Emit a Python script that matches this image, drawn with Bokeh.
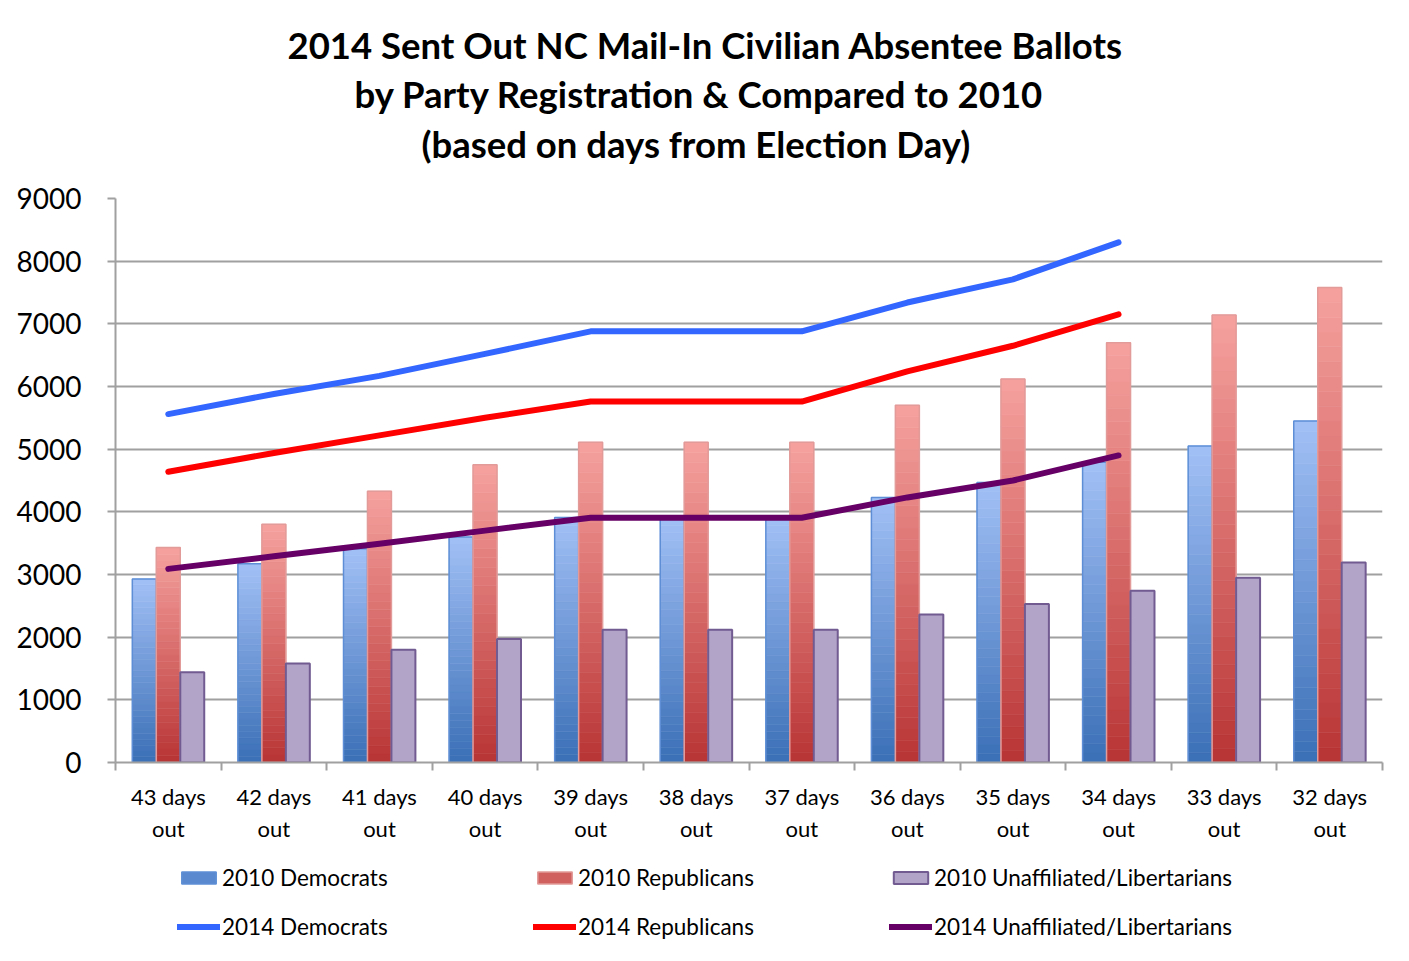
from bokeh.plotting import figure
from bokeh.layouts import column
from bokeh.models import FixedTicker, Title, Legend, LegendItem, ColumnDataSource, Range1d
from bokeh.embed import file_html
from bokeh.resources import INLINE

# ---------------- data ----------------
categories = ["43 days\nout", "42 days\nout", "41 days\nout", "40 days\nout", "39 days\nout",
              "38 days\nout", "37 days\nout", "36 days\nout", "35 days\nout", "34 days\nout",
              "33 days\nout", "32 days\nout"]
dem_2010 = [2930, 3170, 3410, 3600, 3910, 3910, 3910, 4230, 4470, 4790, 5050, 5450]
rep_2010 = [3430, 3800, 4330, 4750, 5110, 5110, 5110, 5700, 6120, 6700, 7140, 7580]
una_2010 = [1440, 1580, 1800, 1970, 2120, 2120, 2120, 2360, 2530, 2740, 2950, 3190]
dem_2014 = [5560, 5880, 6170, 6520, 6880, 6880, 6880, 7340, 7710, 8300]
rep_2014 = [4640, 4940, 5220, 5500, 5760, 5760, 5760, 6240, 6650, 7150]
una_2014 = [3090, 3290, 3490, 3700, 3905, 3905, 3905, 4230, 4500, 4900]
y_ticks = [0, 1000, 2000, 3000, 4000, 5000, 6000, 7000, 8000, 9000]
title_lines = ["2014 Sent Out NC Mail-In Civilian Absentee Ballots",
               "by Party Registration & Compared to 2010",
               "(based on days from Election Day)"]
series_labels = ["2010 Democrats", "2010 Republicans", "2010 Unaffiliated/Libertarians",
                 "2014 Democrats", "2014 Republicans", "2014 Unaffiliated/Libertarians"]

FONT = "Lato"
N_SEG = 32
BAR_W = 0.227
W = 1393
NAN = float("nan")

# colours
DEM_BOT, DEM_TOP, DEM_LINE, DEM_LEG = "#3a6fb6", "#a2c0f6", "#5e8fd6", "#5b89cf"
REP_BOT, REP_TOP, REP_LINE, REP_LEG = "#b83434", "#f6a29f", "#e29b99", "#d0605e"
UNA_FILL, UNA_LINE = "#b2a3c8", "#715b91"
C14 = ["#3366ff", "#ff0000", "#660066"]


def hex2rgb(h):
    h = h.lstrip("#")
    return tuple(int(h[i:i + 2], 16) for i in (0, 2, 4))


def lerp(c1, c2, t):
    a, b = hex2rgb(c1), hex2rgb(c2)
    return "#%02x%02x%02x" % tuple(round(a[j] + (b[j] - a[j]) * t) for j in range(3))


def gradient_source(values, offset, bottom_col, top_col):
    xs, bots, tops, cols = [], [], [], []
    for i, v in enumerate(values):
        for k in range(N_SEG):
            t = (k + 0.5) / N_SEG
            xs.append(i + offset)
            bots.append(v * k / N_SEG)
            tops.append(v * (k + 1) / N_SEG)
            cols.append(lerp(bottom_col, top_col, t))
    return ColumnDataSource(dict(x=xs, bottom=bots, top=tops, color=cols))


n = len(categories)
p = figure(width=W, height=850, output_backend="svg", toolbar_location=None,
           x_range=Range1d(-0.5, n - 0.5), y_range=Range1d(0, 9000),
           min_border_left=115, min_border_right=11, min_border_top=198, min_border_bottom=88)
p.title = None
p.outline_line_color = None
p.background_fill_color = "white"
p.border_fill_color = "white"

# titles: spacer nearest the frame, then lines 3, 2, 1 (stacked outward)
p.add_layout(Title(text=" ", text_font_size="1px", standoff=28), "above")
title_offsets = [172, 239, 306]
title_standoffs = [2, 4, 4]
for i in (2, 1, 0):
    p.add_layout(Title(text=title_lines[i], align="left", text_font=FONT, text_font_style="bold",
                       text_font_size="36.5px", text_color="black",
                       standoff=title_standoffs[i], offset=title_offsets[i]), "above")

# 2010 bars (vertical gradient made of stacked slices)
for vals, off, bcol, tcol, lcol in [(dem_2010, -BAR_W, DEM_BOT, DEM_TOP, DEM_LINE),
                                    (rep_2010, 0.0, REP_BOT, REP_TOP, REP_LINE)]:
    src = gradient_source(vals, off, bcol, tcol)
    p.vbar(x="x", bottom="bottom", top="top", width=BAR_W, source=src,
           fill_color="color", line_color="color", line_width=0.6)
    p.vbar(x=[i + off for i in range(len(vals))], top=vals, width=BAR_W,
           fill_color=None, line_color=lcol, line_width=1.5)

p.vbar(x=[i + BAR_W for i in range(n)], top=una_2010, width=BAR_W,
       fill_color=UNA_FILL, line_color=UNA_LINE, line_width=2)

# 2014 lines
for vals, col in zip([dem_2014, rep_2014, una_2014], C14):
    p.line(list(range(len(vals))), vals, line_color=col, line_width=6,
           line_cap="round", line_join="round")

# axes
p.yaxis.ticker = FixedTicker(ticks=y_ticks)
p.yaxis.axis_line_color = "#a0a0a0"
p.yaxis.axis_line_width = 2
p.yaxis.major_tick_line_color = "#a0a0a0"
p.yaxis.major_tick_line_width = 2
p.yaxis.major_tick_out = 8
p.yaxis.major_tick_in = 0
p.yaxis.minor_tick_line_color = None
p.yaxis.major_label_text_font = FONT
p.yaxis.major_label_text_font_size = "28px"
p.yaxis.major_label_text_color = "black"
p.yaxis.major_label_standoff = 26

p.xaxis.ticker = FixedTicker(ticks=list(range(n)), minor_ticks=[i - 0.5 for i in range(n + 1)])
p.xaxis.major_label_overrides = {i: c for i, c in enumerate(categories)}
p.xaxis.axis_line_color = "#a0a0a0"
p.xaxis.axis_line_width = 2
p.xaxis.major_tick_line_color = None
p.xaxis.minor_tick_line_color = "#a0a0a0"
p.xaxis.minor_tick_line_width = 2
p.xaxis.minor_tick_out = 8
p.xaxis.minor_tick_in = 0
p.xaxis.major_label_text_font = FONT
p.xaxis.major_label_text_font_size = "22px"
p.xaxis.major_label_text_color = "black"
p.xaxis.major_label_standoff = 12

p.xgrid.grid_line_color = None
p.ygrid.grid_line_color = "#a0a0a0"
p.ygrid.grid_line_width = 2

# ---------------- legend strip ----------------
lg = figure(width=W, height=95, output_backend="svg", toolbar_location=None,
            x_range=Range1d(0, 1), y_range=Range1d(0, 1),
            x_axis_location=None, y_axis_location=None,
            min_border_left=0, min_border_right=0, min_border_top=0, min_border_bottom=0)
lg.title = None
lg.outline_line_color = None
lg.xgrid.grid_line_color = None
lg.ygrid.grid_line_color = None

# legend-only proxy glyphs (NaN data, so nothing is drawn in the strip itself)
px_d = lg.vbar(x=[NAN], top=[NAN], width=0.1, fill_color=DEM_LEG, line_color=DEM_LINE, line_width=1.5)
px_r = lg.vbar(x=[NAN], top=[NAN], width=0.1, fill_color=REP_LEG, line_color=REP_LINE, line_width=1.5)
px_u = lg.vbar(x=[NAN], top=[NAN], width=0.1, fill_color=UNA_FILL, line_color=UNA_LINE, line_width=2)
pl = [lg.line(x=[NAN], y=[NAN], line_color=c, line_width=6, line_cap="round") for c in C14]
proxies_bar = [px_d, px_r, px_u]

col_x = [62, 418, 774]   # offsets from the (aligned) frame's left edge
for j in range(3):
    leg = Legend(items=[LegendItem(label=series_labels[j], renderers=[proxies_bar[j]]),
                        LegendItem(label=series_labels[j + 3], renderers=[pl[j]])],
                 location=(col_x[j], 5), orientation="vertical",
                 glyph_width=43, glyph_height=15, label_standoff=2, spacing=22,
                 label_height=20, padding=0, margin=0,
                 border_line_color=None, background_fill_alpha=0,
                 label_text_font=FONT, label_text_font_size="22.5px", label_text_color="black")
    lg.add_layout(leg, "center")

layout = column(p, lg, spacing=0)
open("out.html", "w").write(file_html(layout, INLINE))
